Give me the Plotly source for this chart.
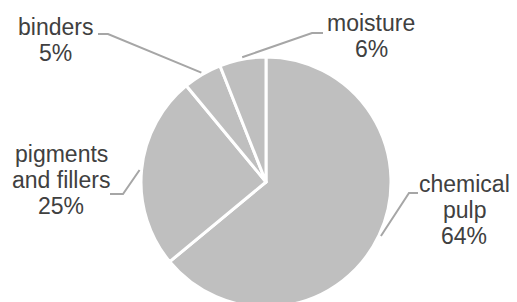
import math
import plotly.graph_objects as go

labels = ["chemical pulp", "pigments and fillers", "binders", "moisture"]
values = [64, 25, 5, 6]
label_lines = [["chemical", "pulp", "64%"],
               ["pigments", "and fillers", "25%"],
               ["binders", "5%"],
               ["moisture", "6%"]]

W, H = 509, 300
OFF = 8  # page body margin
CX, CY, R = 266, 182, 125
FONT = "Liberation Sans, Arial, sans-serif"
TXT = "#404040"
LINE = "#A6A6A6"
FS = 23
LS = 26

# label layout (pixel): center x, first baseline y, text-end x, elbow x, elbow y
label_pos = [
    (464, 192, 418, 409, 193),
    (61, 162, 110, 123, 194),
    (55, 35, 98, 108, 34),
    (371, 31, 323, 312, 33),
]

def px(x):
    return (x - OFF) / W

def py(y):
    return 1 - (y - OFF) / H

fig = go.Figure(go.Pie(
    labels=labels, values=values, sort=False, direction="clockwise", rotation=0,
    marker=dict(colors=["#BFBFBF"] * 4, line=dict(color="white", width=3)),
    textinfo="none", hoverinfo="label+percent", showlegend=False,
    domain=dict(x=[px(CX - R), px(CX + R)], y=[max(0, py(CY + R)), py(CY - R)]),
))

total = sum(values)
cum = 0
shapes = []
annotations = []
for v, lines, (tx, by, tend, ex, ey) in zip(values, label_lines, label_pos):
    mid = (cum + v / 2) / total * 2 * math.pi
    cum += v
    r_out = R + 2
    sx = CX + r_out * math.sin(mid)
    sy = CY - r_out * math.cos(mid)
    path = f"M {px(tend)} {py(ey)} L {px(ex)} {py(ey)} L {px(sx)} {py(sy)}"
    shapes.append(dict(type="path", xref="paper", yref="paper", path=path,
                       line=dict(color=LINE, width=2)))
    for i, t in enumerate(lines):
        base = by + i * LS
        annotations.append(dict(
            text=t, x=px(tx), y=py(base - 0.36 * FS), xref="paper", yref="paper",
            xanchor="center", yanchor="middle", showarrow=False,
            font=dict(family=FONT, size=FS, color=TXT)))

fig.update_layout(
    width=W, height=H, margin=dict(l=0, r=0, t=0, b=0),
    paper_bgcolor="white", plot_bgcolor="white",
    shapes=shapes, annotations=annotations,
)
fig.write_html("out.html")
